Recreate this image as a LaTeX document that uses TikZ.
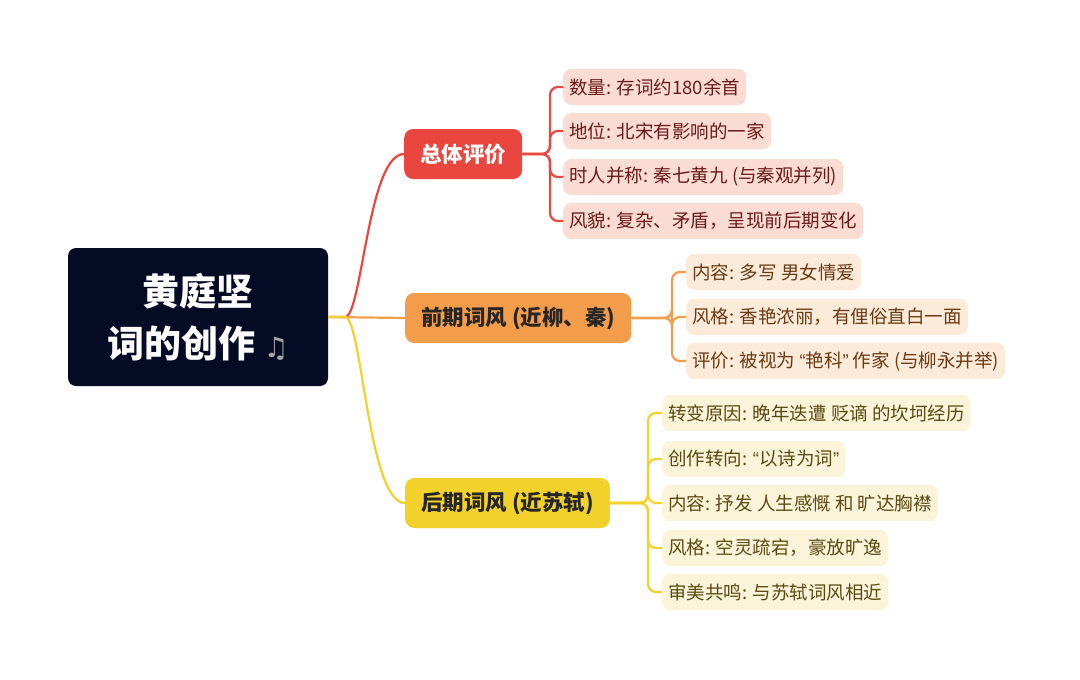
\documentclass[tikz,border=0pt]{standalone}
\usepackage{fontspec}
\setmainfont{Noto Sans CJK SC}
\newfontfamily\symf{DejaVu Sans}
\newfontfamily\qf{Liberation Sans}
\newcommand{\myLQ}{{\qf “}}\newcommand{\myRQ}{{\qf ”}}
\begin{document}
\begin{tikzpicture}[x=1pt,y=-1pt,
 leaf/.style={anchor=west,rounded corners=8pt,minimum height=36pt,inner xsep=6pt,font=\fontsize{18.5}{20}\selectfont},
 lr/.style={leaf,fill=red1!100,text=tr},
 lo/.style={leaf,fill=or1,text=to},
 ly/.style={leaf,fill=ye1,text=ty},
 br/.style={anchor=west,rounded corners=9pt,minimum height=50pt,inner xsep=16pt,font=\bfseries\fontsize{21.5}{24}\selectfont},
 con/.style={line width=2.2pt,rounded corners=8pt}]
\definecolor{red1}{HTML}{FBDCD3}\definecolor{tr}{HTML}{6B1A1A}
\definecolor{or1}{HTML}{FDEBD9}\definecolor{to}{HTML}{6B3A14}
\definecolor{ye1}{HTML}{FBF4D9}\definecolor{ty}{HTML}{5A4A14}
\definecolor{cR}{HTML}{E8463F}\definecolor{cO}{HTML}{F39C4A}\definecolor{cY}{HTML}{F2D22A}
\definecolor{navy}{HTML}{050B24}
\useasboundingbox (0,0) rectangle (1080,680);
\node[fill=navy,rounded corners=8pt,minimum width=260pt,minimum height=138pt,text=white,align=center,font=\bfseries\fontsize{37}{52}\selectfont] (root) at (198,317) {黄庭坚\\词的创作 {\symf\color{gray!70}\fontsize{28}{28}\selectfont ♫}};
\node[br,fill=cR,text=white] (b1) at (404,154) {总体评价};
\node[br,fill=cO,text=black!85] (b2) at (405,318) {前期词风 (近柳、秦)};
\node[br,fill=cY,text=black!85] (b3) at (405,503) {后期词风 (近苏轼)};
\draw[cR,line width=2.2pt] (root.east) -- (345,317) .. controls (362,317) and (368,154) .. (b1.west);
\draw[cO,line width=2.2pt] (root.east) -- (b2.west);
\draw[cY,line width=2.2pt] (root.east) -- (345,317) .. controls (362,317) and (368,503) .. (b3.west);
\node[lr] (r1) at (563,87) {数量: 存词约180余首};
\node[lr] (r2) at (563,131) {地位: 北宋有影响的一家};
\node[lr] (r3) at (563,177) {时人并称: 秦七黄九 (与秦观并列)};
\node[lr] (r4) at (563,221) {风貌: 复杂、矛盾，呈现前后期变化};
\foreach \n in {r1,r2,r3,r4} \draw[cR,con] (b1.east) -- (550,154) |- (\n.west);
\node[lo] (o1) at (686,272) {内容: 多写 男女情爱};
\node[lo] (o2) at (686,317) {风格: 香艳浓丽，有俚俗直白一面};
\node[lo] (o3) at (686,361) {评价: 被视为 \myLQ 艳科\myRQ\ 作家 (与柳永并举)};
\foreach \n in {o1,o2,o3} \draw[cO,con] (b2.east) -- (672,318) |- (\n.west);
\node[ly] (y1) at (662,413) {转变原因: 晚年迭遭 贬谪 的坎坷经历};
\node[ly] (y2) at (662,459) {创作转向: \myLQ 以诗为词\myRQ};
\node[ly] (y3) at (662,503) {内容: 抒发 人生感慨 和 旷达胸襟};
\node[ly] (y4) at (662,548) {风格: 空灵疏宕，豪放旷逸};
\node[ly] (y5) at (662,592) {审美共鸣: 与苏轼词风相近};
\foreach \n in {y1,y2,y3,y4,y5} \draw[cY,con] (b3.east) -- (648,503) |- (\n.west);
\end{tikzpicture}
\end{document}
